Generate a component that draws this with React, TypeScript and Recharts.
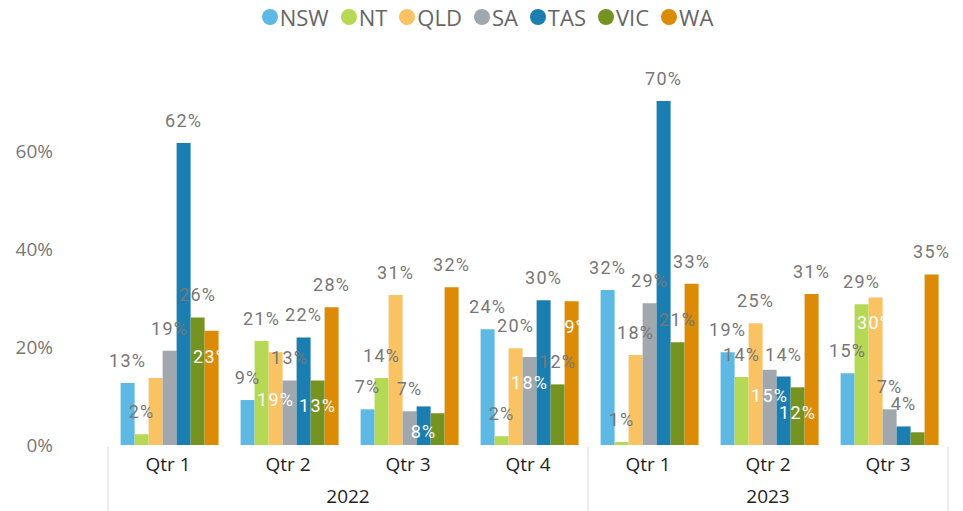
import React from 'react';
import { BarChart, Bar, XAxis, YAxis, Legend } from 'recharts';

// quarters along the x axis, grouped by year
const QUARTERS = ['Qtr 1', 'Qtr 2', 'Qtr 3', 'Qtr 4', 'Qtr 1', 'Qtr 2', 'Qtr 3'];
const YEARS = ['2022', '2022', '2022', '2022', '2023', '2023', '2023'];

const STATES = ['NSW', 'NT', 'QLD', 'SA', 'TAS', 'VIC', 'WA'];

// share per state
const NSW = [0.127, 0.092, 0.073, 0.237, 0.317, 0.19, 0.147];
const NT = [0.022, 0.213, 0.137, 0.018, 0.006, 0.139, 0.288];
const QLD = [0.137, 0.19, 0.307, 0.198, 0.184, 0.249, 0.302];
const SA = [0.193, 0.132, 0.069, 0.18, 0.29, 0.154, 0.073];
const TAS = [0.618, 0.22, 0.079, 0.296, 0.704, 0.14, 0.038];
const VIC = [0.261, 0.132, 0.065, 0.124, 0.21, 0.118, 0.026];
const WA = [0.234, 0.282, 0.323, 0.294, 0.33, 0.309, 0.349];

const Y_TICKS = [0, 0.2, 0.4, 0.6];

const COLORS: Record<string, string> = {
  NSW: '#5DB9E4',
  NT: '#B5D855',
  QLD: '#F9C364',
  SA: '#A0A7AD',
  TAS: '#1B7EB0',
  VIC: '#749321',
  WA: '#DB8B05',
};

// where each data label goes: o = above the bar, i = inside top, c = inside centre, '' = hidden
const LABEL_MODE: Record<string, string[]> = {
  NSW: ['o', 'o', 'o', 'o', 'o', 'o', 'o'],
  NT: ['o', 'o', 'o', 'o', 'o', 'o', 'o'],
  QLD: ['', 'c', 'o', 'o', 'o', 'o', 'i'],
  SA: ['o', 'o', 'o', 'i', 'o', 'i', 'o'],
  TAS: ['o', 'o', 'i', 'o', 'o', 'o', 'o'],
  VIC: ['o', 'i', '', 'o', 'o', 'i', ''],
  WA: ['i', 'o', 'o', 'i', 'o', 'o', 'o'],
};

const SERIES: Record<string, number[]> = { NSW, NT, QLD, SA, TAS, VIC, WA };

const data = QUARTERS.map((qtr, i) => {
  const row: Record<string, any> = { qtr, year: YEARS[i] };
  STATES.forEach((s) => {
    row[s] = SERIES[s][i];
  });
  return row;
});

const WIDTH = 963;
const HEIGHT = 511;
const Y_AXIS_W = 108;
const RIGHT = 15;
const BAND = (WIDTH - Y_AXIS_W - RIGHT) / QUARTERS.length;

const AXIS_FONT = '"Segoe UI", "Open Sans", sans-serif';

function makeLabel(key: string) {
  return (props: any) => {
    const { x, y, width, height, value, index } = props;
    const mode = LABEL_MODE[key][index];
    if (!mode) return null;
    const cx = Number(x) + Number(width) / 2;
    let ty = Number(y) - 16;
    if (mode === 'i') ty = Number(y) + 32;
    if (mode === 'c') ty = Number(y) + Number(height) / 2 + 7;
    return (
      <text
        x={cx}
        y={ty}
        textAnchor="middle"
        fill={mode === 'o' ? '#777777' : '#ffffff'}
        style={{ fontFamily: 'Roboto, sans-serif', fontSize: 18, letterSpacing: 1.2 }}
      >
        {Math.round(value * 100)}%
      </text>
    );
  };
}

const QtrTick = (props: any) => {
  const { x, y, payload } = props;
  return (
    <text
      x={x}
      y={y}
      dy={18}
      textAnchor="middle"
      fill="#252423"
      style={{ fontFamily: AXIS_FONT, fontSize: 19 }}
    >
      {payload.value}
    </text>
  );
};

const YearTick = (props: any) => {
  const { x, y, payload } = props;
  const i = props.index ?? payload.index;
  const year = YEARS[i];
  if (i > 0 && YEARS[i - 1] === year) {
    if (i === YEARS.length - 1) {
      const lx = x + BAND / 2;
      return <line x1={lx} x2={lx} y1={y - 38} y2={y + 30} stroke="#ebebeb" strokeWidth={2} />;
    }
    return null;
  }
  const count = YEARS.filter((yr) => yr === year).length;
  const lx = x - BAND / 2;
  return (
    <g>
      <line x1={lx} x2={lx} y1={y - 38} y2={y + 30} stroke="#ebebeb" strokeWidth={2} />
      <text
        x={x + ((count - 1) * BAND) / 2}
        y={y}
        dy={18}
        textAnchor="middle"
        fill="#252423"
        style={{ fontFamily: AXIS_FONT, fontSize: 19 }}
      >
        {year}
      </text>
    </g>
  );
};

const LegendContent = () => (
  <div
    style={{
      display: 'flex',
      justifyContent: 'center',
      alignItems: 'center',
      height: 30,
      fontFamily: AXIS_FONT,
      fontSize: 22,
      color: '#666666',
    }}
  >
    {STATES.map((s, i) => (
      <div
        key={s}
        style={{ display: 'flex', alignItems: 'center', marginRight: i === STATES.length - 1 ? 0 : 12 }}
      >
        <span
          style={{
            width: 16,
            height: 16,
            borderRadius: 8,
            background: COLORS[s],
            display: 'inline-block',
            marginRight: 2,
          }}
        />
        <span>{s}</span>
      </div>
    ))}
  </div>
);

export default function App() {
  return (
    <div style={{ position: 'absolute', left: 0, top: 0, background: '#fff' }}>
      <BarChart
        width={WIDTH}
        height={HEIGHT}
        data={data}
        margin={{ top: 24, right: RIGHT, left: 0, bottom: 0 }}
        barCategoryGap="10.5%"
        barGap={0}
      >
        <Legend
          verticalAlign="top"
          content={<LegendContent />}
          wrapperStyle={{ top: 2, left: 6, width: WIDTH, height: 30 }}
        />
        <XAxis
          dataKey="qtr"
          axisLine={false}
          tickLine={false}
          height={32}
          interval={0}
          tick={<QtrTick />}
        />
        <XAxis
          xAxisId="year"
          dataKey="qtr"
          axisLine={false}
          tickLine={false}
          height={34}
          interval={0}
          tick={<YearTick />}
        />
        <YAxis
          width={Y_AXIS_W}
          domain={[0, 0.8]}
          ticks={Y_TICKS}
          axisLine={false}
          tickLine={false}
          tickSize={0}
          tickMargin={55}
          tickFormatter={(v: number) => `${Math.round(v * 100)}%`}
          tick={{ fill: '#777777', fontSize: 19, fontFamily: AXIS_FONT }}
        />
        {STATES.map((s) => (
          <Bar
            key={s}
            dataKey={s}
            fill={COLORS[s]}
            isAnimationActive={false}
            label={makeLabel(s)}
          />
        ))}
      </BarChart>
    </div>
  );
}
